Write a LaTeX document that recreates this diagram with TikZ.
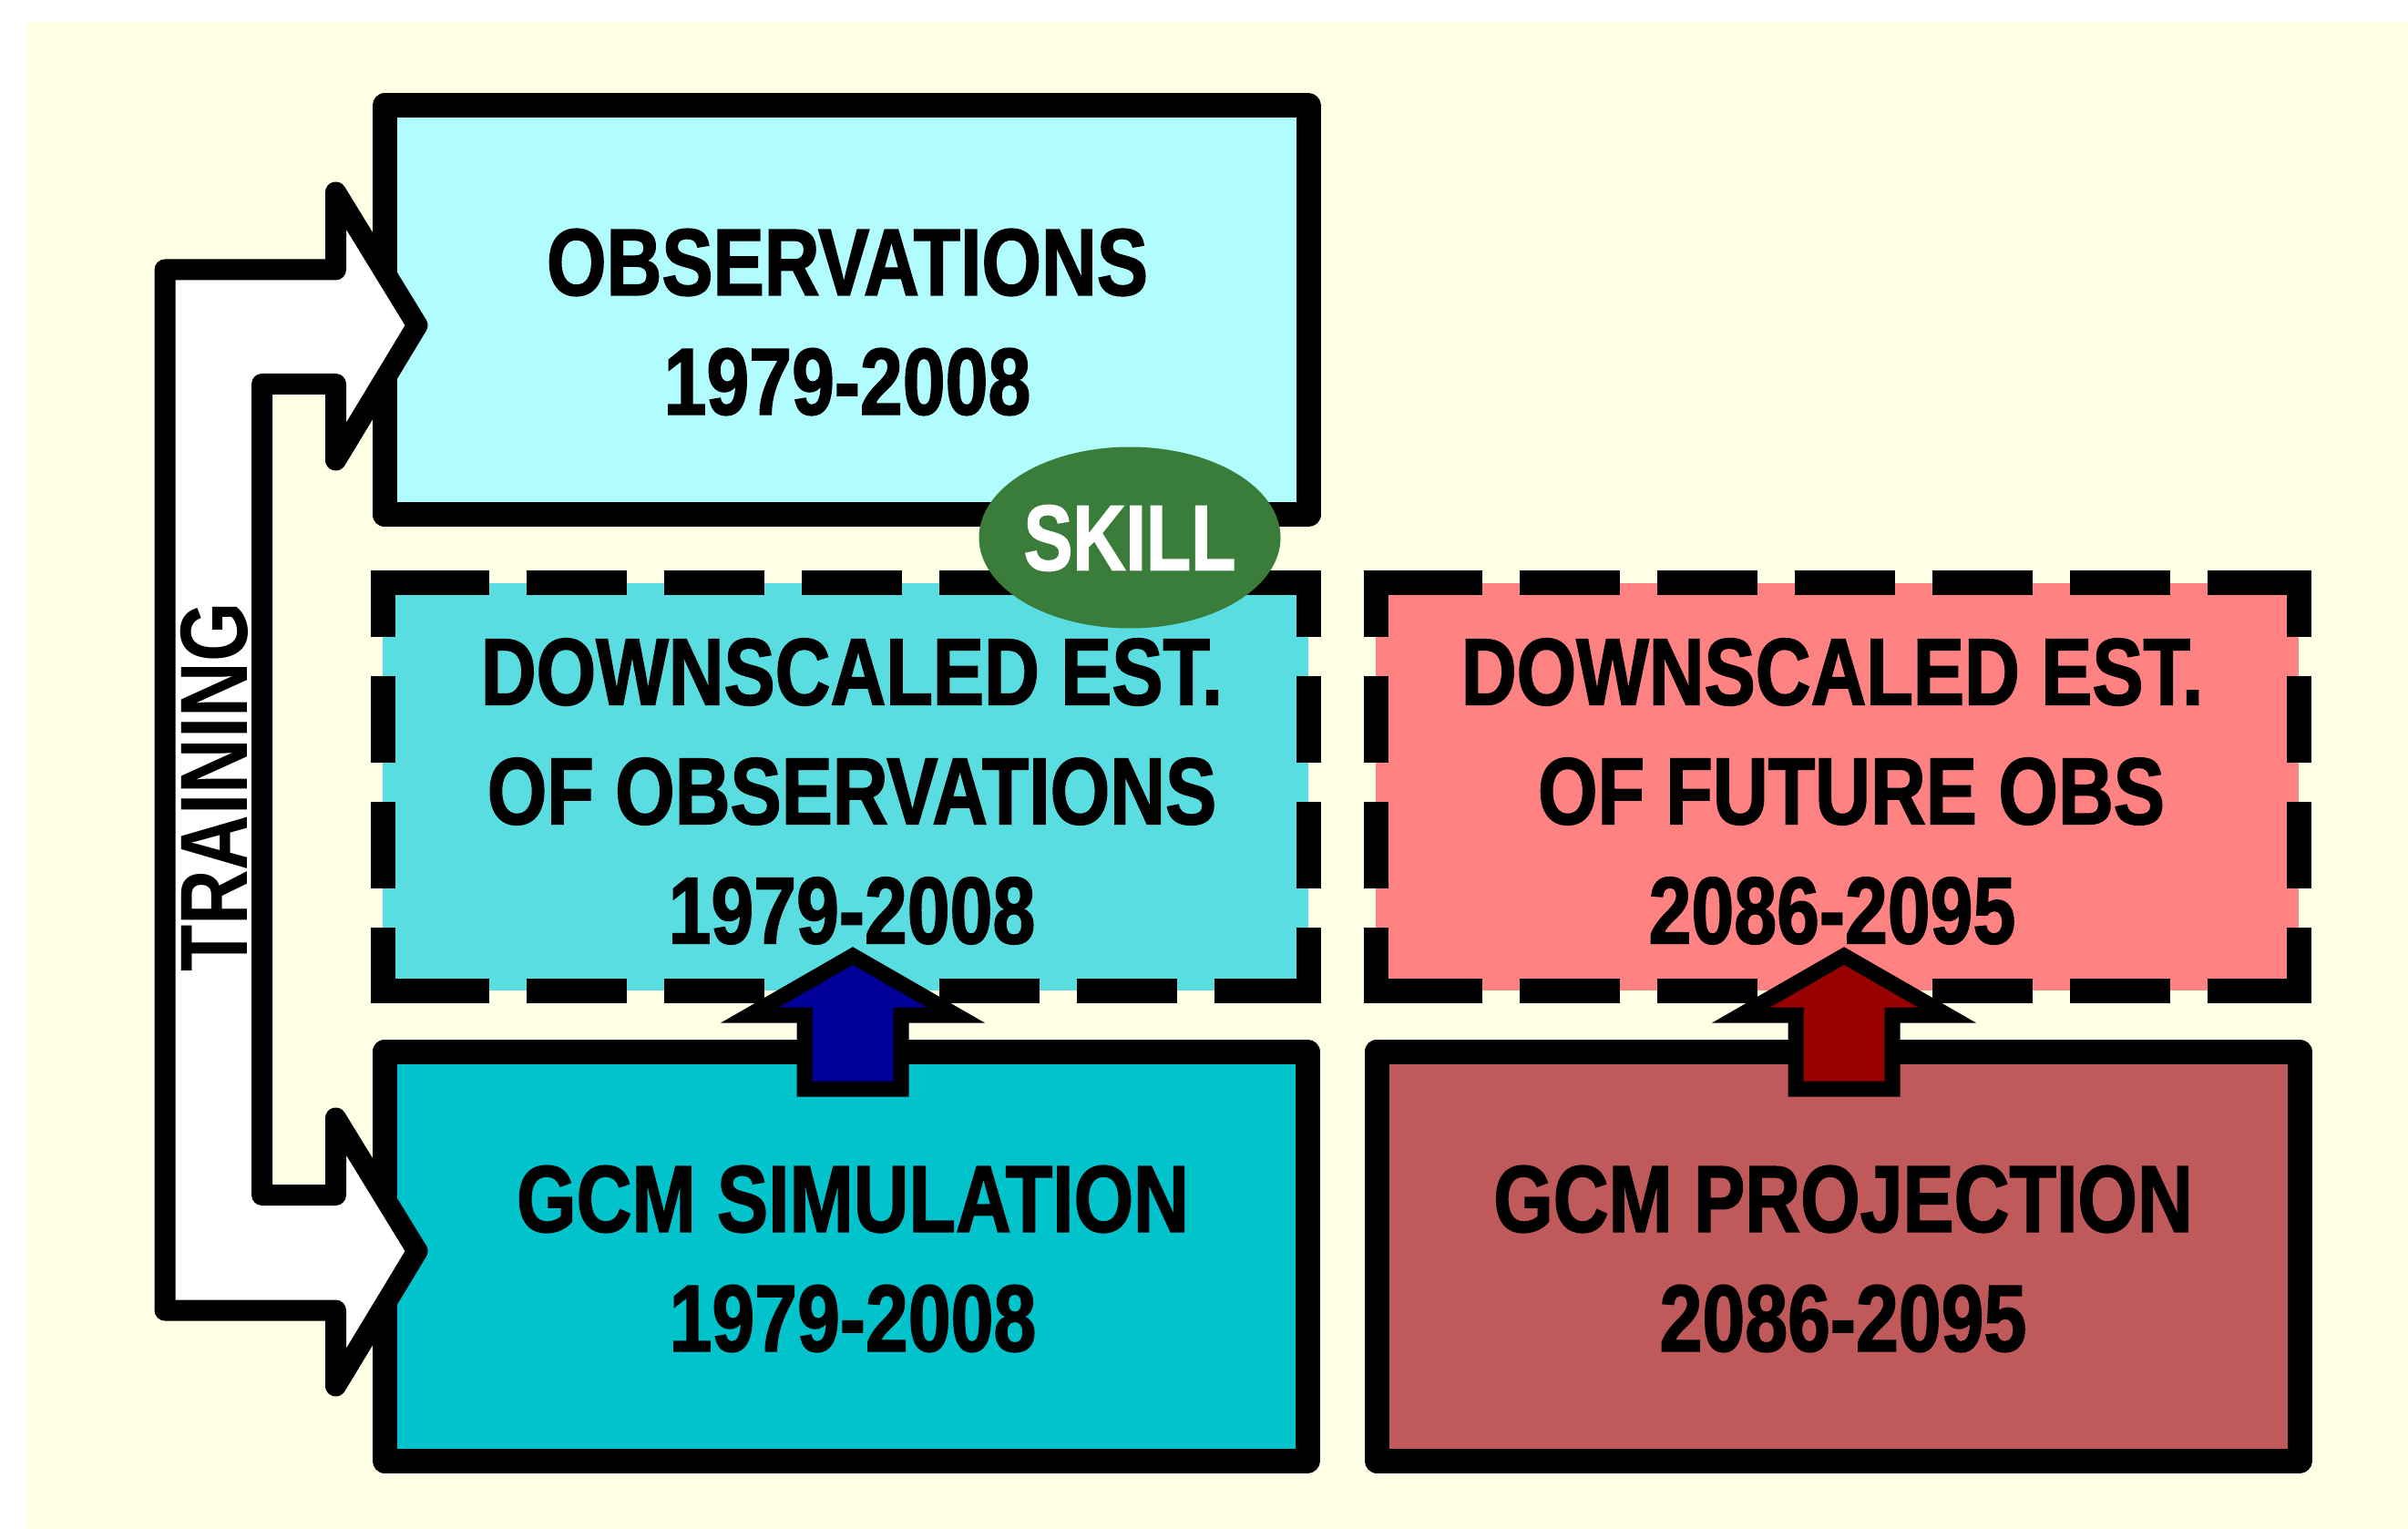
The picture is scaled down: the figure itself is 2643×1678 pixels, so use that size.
\documentclass[tikz,border=0pt]{standalone}
\usepackage{fontspec}
\usetikzlibrary{shapes.geometric}
\newfontfamily\boxfont{Liberation Sans}[FakeStretch=0.81,BoldFeatures={FakeBold=1.5}]
\newfontfamily\skillfont{Liberation Sans}[FakeStretch=0.79,BoldFeatures={FakeBold=1.5}]
\newfontfamily\trainfont{Liberation Sans}[FakeStretch=0.80]
\definecolor{cream}{HTML}{FFFFE6}
\definecolor{obsfill}{HTML}{B0FCFE}
\definecolor{dobsfill}{HTML}{5ADDE0}
\definecolor{gsimfill}{HTML}{00C3CC}
\definecolor{dfutfill}{HTML}{FF8282}
\definecolor{gprojfill}{HTML}{C05A5A}
\definecolor{skillgreen}{HTML}{3A7D3A}
\definecolor{arrowblue}{HTML}{000099}
\definecolor{arrowred}{HTML}{990000}
\begin{document}
\begin{tikzpicture}[x=0.25pt,y=-0.25pt,
  solidbox/.style={draw=black,line width=6.75pt,line join=round,rectangle,inner sep=0pt,outer sep=0pt,minimum width=253.5pt,minimum height=112.25pt},
  dashbox/.style={rectangle,inner sep=0pt,outer sep=0pt,minimum width=254pt,minimum height=111.75pt},
  hedge/.style={draw=black,line width=6.75pt,line cap=butt,dash pattern=on 32.5pt off 10.25pt on 27.5pt off 10.25pt on 27.5pt off 10.25pt on 27.5pt off 10.25pt on 27.5pt off 10.25pt on 27.5pt off 10.25pt on 75pt off 1pt},
  vedge/.style={draw=black,line width=6.75pt,line cap=butt,dash pattern=on 18.125pt off 10.75pt on 23.75pt off 10.75pt on 23.75pt off 10.75pt on 75pt off 1pt},
  txt/.style={font=\boxfont\bfseries\fontsize{26pt}{32.75pt}\selectfont,align=center,inner sep=0pt,text depth=0pt},
  uparrow/.style={draw=black,line width=4.25pt,line join=miter,miter limit=10},
  trainarrow/.style={draw=black,fill=white,line width=5.75pt,line join=round}
]
\useasboundingbox (0,0) rectangle (2643,1678);
\fill[white] (0,0) rectangle (2643,1678);
\fill[cream] (30,24) rectangle (2643,1678);

% solid boxes
\node[solidbox,fill=obsfill] (obs) at (929,340.5) {};
\node[solidbox,fill=gsimfill,minimum width=253.25pt] (gsim) at (928.5,1378.5) {};
\node[solidbox,fill=gprojfill,minimum width=253.25pt] (gproj) at (2017.5,1378.5) {};

% dashed boxes
\node[dashbox,fill=dobsfill] (dobs) at (928,863.5) {};
\node[dashbox,fill=dfutfill,minimum width=253.25pt] (dfut) at (2016.5,863.5) {};
\foreach \b in {dobs,dfut}{
  \draw[hedge] ([xshift=-3.375pt]\b.north west) -- ([xshift=3.375pt]\b.north east);
  \draw[hedge] ([xshift=-3.375pt]\b.south west) -- ([xshift=3.375pt]\b.south east);
  \draw[vedge] ([yshift=3.375pt]\b.north west) -- ([yshift=-3.375pt]\b.south west);
  \draw[vedge] ([yshift=3.375pt]\b.north east) -- ([yshift=-3.375pt]\b.south east);
}

% skill ellipse
\node[ellipse,fill=skillgreen,inner sep=0pt,minimum width=82.75pt,minimum height=49.75pt,text=white,text depth=0pt,
      font=\skillfont\bfseries\fontsize{25.5pt}{30pt}\selectfont] (skill) at (1240,590) {SKILL};

% up arrows
\draw[uparrow,fill=arrowblue,shift={(936,0)}] (0,1049) coordinate (bluetip) -- (113,1114) -- (53,1114) -- (53,1195) -- (-53,1195) -- (-53,1114) -- (-113,1114) -- cycle;
\draw[uparrow,fill=arrowred,shift={(2024,0)}] (0,1049) coordinate (redtip) -- (113,1114) -- (53,1114) -- (53,1195) -- (-53,1195) -- (-53,1114) -- (-113,1114) -- cycle;

% training arrow
\draw[trainarrow] (181,296) -- (368.5,296) -- (368.5,211) -- (458,357) -- (368.5,505) -- (368.5,421.5)
  -- (287.5,421.5) -- (287.5,1311.5) -- (368.5,1311.5) -- (368.5,1227) -- (458,1373) -- (368.5,1521)
  -- (368.5,1438) -- (181,1438) -- cycle;
\node[rotate=90,inner sep=0pt,text depth=0pt,font=\trainfont\bfseries\fontsize{26.25pt}{30pt}\selectfont] (train) at (235,864) {TRAINING};

% texts
\node[txt] (tobs) at (930,353) {OBSERVATIONS\\1979-2008};
\node[txt] (tdobs) at (935,868) {DOWNSCALED EST.\\OF OBSERVATIONS\\1979-2008};
\node[txt] (tgsim) at (936,1381) {GCM SIMULATION\\1979-2008};
\node[txt] (tdfut) at (2011,868) {DOWNSCALED EST.\\\hspace*{10.5pt}OF FUTURE OBS\\2086-2095};
\node[txt] (tgproj) at (2023,1381) {GCM PROJECTION\\2086-2095};
\end{tikzpicture}
\end{document}
